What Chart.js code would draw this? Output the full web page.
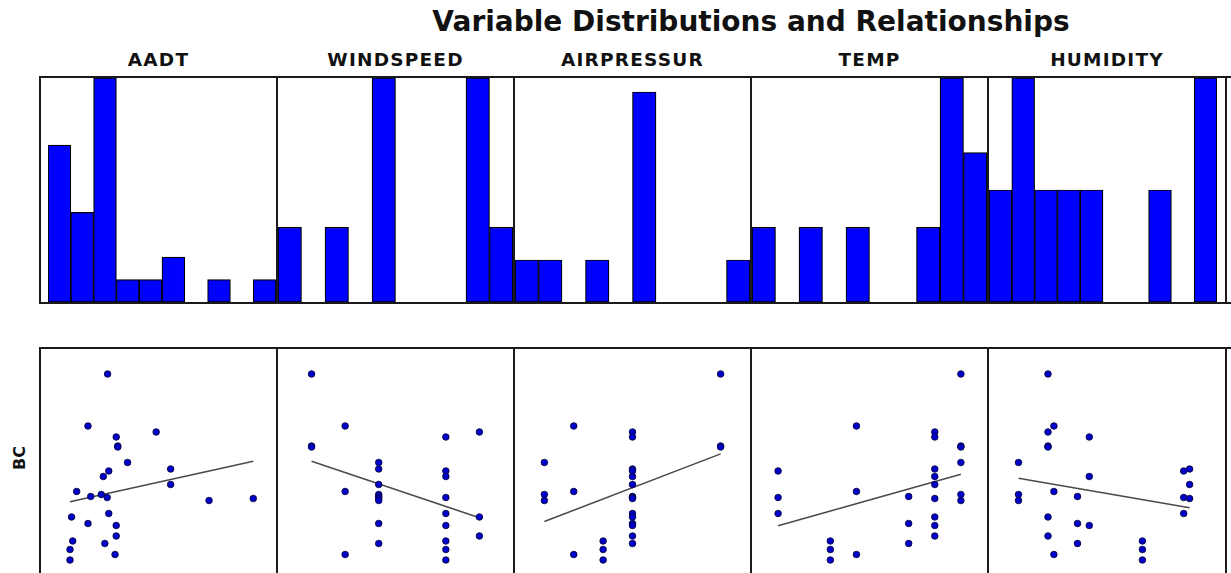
<!DOCTYPE html>
<html>
<head>
<meta charset="utf-8">
<script src="https://cdn.jsdelivr.net/npm/chart.js@4.4.1/dist/chart.umd.min.js"></script>
<style>
  body { margin: 0; background: #fff; width: 1231px; height: 573px; overflow: hidden; position: relative; font-family: "DejaVu Sans", sans-serif; }
  .panel { position: absolute; box-sizing: border-box; border: 2px solid #1a1a1a; background: #fff; }
  .panel canvas { display: block; }
  .lbl { position: absolute; font-weight: bold; color: #111; white-space: nowrap; line-height: 1; transform: translateX(-50%); }
</style>
</head>
<body>
<script>
// one row per site, same order in every array
const variables = ['AADT', 'WINDSPEED', 'AIRPRESSUR', 'TEMP', 'HUMIDITY'];
const bc = [4.00, 2.96, 2.84, 2.74, 2.56, 2.23, 2.10, 2.06, 1.95, 1.79, 1.65, 1.59, 1.55, 1.53,
            1.51, 1.47, 1.21, 1.14, 1.01, 0.97, 0.76, 0.66, 0.61, 0.49, 0.39, 0.28, 2.54];
const aadt = [17000, 12000, 29400, 19200, 19600, 22100, 33100, 17300, 15900, 33100, 9100, 15400, 12700, 16900,
              54200, 42900, 17300, 7800, 12000, 19200, 19200, 8100, 16300, 7400, 18900, 7400, 19600];
const windspeed = [1.0, 1.5, 3.5, 3.0, 1.0, 2.0, 2.0, 3.0, 3.0, 2.0, 1.5, 2.0, 2.0, 3.0,
                   2.0, 2.0, 3.0, 3.5, 2.0, 3.0, 3.5, 3.0, 2.0, 3.0, 1.5, 3.0, 1.0];
const airpressur = [1016, 1011, 1013, 1013, 1016, 1010, 1013, 1013, 1013, 1013, 1011, 1010, 1013, 1013,
                    1013, 1010, 1013, 1013, 1013, 1013, 1013, 1012, 1013, 1012, 1011, 1012, 1016];
const temp = [21, 17, 20, 20, 21, 21, 20, 14, 20, 20, 17, 21, 19, 14,
              20, 21, 14, 20, 19, 20, 20, 16, 19, 16, 17, 16, 21];
const humidity = [50, 51, 50, 57, 50, 45, 74, 73, 57, 74, 51, 45, 55, 73,
                  74, 45, 73, 50, 55, 57, 50, 66, 55, 66, 51, 66, 50];

const series = [aadt, windspeed, airpressur, temp, humidity];
const scatterXMin = [0, 0.5, 1009, 13, 40];
const scatterXMax = [60000, 4.0, 1017, 22, 80];
const bcMin = 0, bcMax = 4.5;
const histYMax = [10, 9, 16, 9, 6];
const nBins = 10;

const panelEdges = [40, 277, 514, 751, 988, 1226];
const histPad = [{ left: 7 }, {}, {}, {}, { right: 8 }];

function histogram(vals) {
  const lo = Math.min(...vals), hi = Math.max(...vals);
  const counts = new Array(nBins).fill(0);
  vals.forEach(v => {
    let b = Math.floor((v - lo) * nBins / (hi - lo));
    if (b >= nBins) b = nBins - 1;
    counts[b]++;
  });
  return counts.map(c => c === 0 ? null : c);
}

function fitLine(xs, ys) {
  const n = xs.length;
  const mx = xs.reduce((a, b) => a + b, 0) / n;
  const my = ys.reduce((a, b) => a + b, 0) / n;
  let sxy = 0, sxx = 0;
  for (let i = 0; i < n; i++) { sxy += (xs[i] - mx) * (ys[i] - my); sxx += (xs[i] - mx) ** 2; }
  const b = sxy / sxx, a = my - b * mx;
  const x0 = Math.min(...xs), x1 = Math.max(...xs);
  return [{ x: x0, y: a + b * x0 }, { x: x1, y: a + b * x1 }];
}

function makePanel(left, top, width, height) {
  const div = document.createElement('div');
  div.className = 'panel';
  div.style.left = left + 'px';
  div.style.top = top + 'px';
  div.style.width = width + 'px';
  div.style.height = height + 'px';
  const cv = document.createElement('canvas');
  cv.width = width - 4;
  cv.height = height - 4;
  div.appendChild(cv);
  document.body.appendChild(div);
  return cv;
}

function addLabel(text, cx, top, size, extra) {
  const d = document.createElement('div');
  d.className = 'lbl';
  d.textContent = text;
  d.style.left = cx + 'px';
  d.style.top = top + 'px';
  d.style.fontSize = size + 'px';
  if (extra) Object.assign(d.style, extra);
  document.body.appendChild(d);
}

const base = {
  responsive: false,
  animation: false,
  events: [],
  plugins: { legend: { display: false }, tooltip: { enabled: false } }
};

addLabel('Variable Distributions and Relationships', 751, 8, 28);

variables.forEach((name, i) => {
  const x0 = panelEdges[i], x1 = panelEdges[i + 1];
  const w = x1 - x0 + 2;
  addLabel(name, (x0 + x1) / 2, 51, 18.5, { letterSpacing: '1.2px' });

  // top row: histogram
  const hc = makePanel(x0 - 1, 76, w, 228);
  new Chart(hc.getContext('2d'), {
    type: 'bar',
    data: {
      labels: Array.from({ length: nBins }, (_, k) => String(k)),
      datasets: [{
        data: histogram(series[i]),
        backgroundColor: '#0000ff',
        borderColor: '#000',
        borderWidth: 1.2,
        borderSkipped: false,
        barPercentage: 1,
        categoryPercentage: 1
      }]
    },
    options: {
      ...base,
      layout: { padding: histPad[i], autoPadding: false },
      scales: {
        x: { type: 'category', display: false, offset: true },
        y: { display: false, min: 0, max: histYMax[i] }
      }
    }
  });

  // bottom row: BC vs variable
  const sc = makePanel(x0 - 1, 347, w, 229);
  new Chart(sc.getContext('2d'), {
    type: 'scatter',
    data: {
      datasets: [{
        data: series[i].map((v, k) => ({ x: v, y: bc[k] })),
        pointRadius: 3.3,
        backgroundColor: '#0000c8',
        borderColor: '#000033',
        borderWidth: 0.8
      }, {
        type: 'line',
        data: fitLine(series[i], bc),
        borderColor: '#4a4a4a',
        borderWidth: 1.5,
        pointRadius: 0
      }]
    },
    options: {
      ...base,
      layout: { padding: 0, autoPadding: false },
      scales: {
        x: { type: 'linear', display: false, min: scatterXMin[i], max: scatterXMax[i] },
        y: { display: false, min: bcMin, max: bcMax }
      }
    }
  });
});

// edge of the next column, cut off by the frame
[[76, 228], [347, 229]].forEach(([t, h]) => {
  const d = document.createElement('div');
  d.className = 'panel';
  Object.assign(d.style, { left: '1225px', top: t + 'px', width: '60px', height: h + 'px' });
  document.body.appendChild(d);
});

addLabel('BC', 20, 450, 16, { transform: 'translate(-50%, 0) rotate(-90deg)', transformOrigin: 'center' });
</script>
</body>
</html>
